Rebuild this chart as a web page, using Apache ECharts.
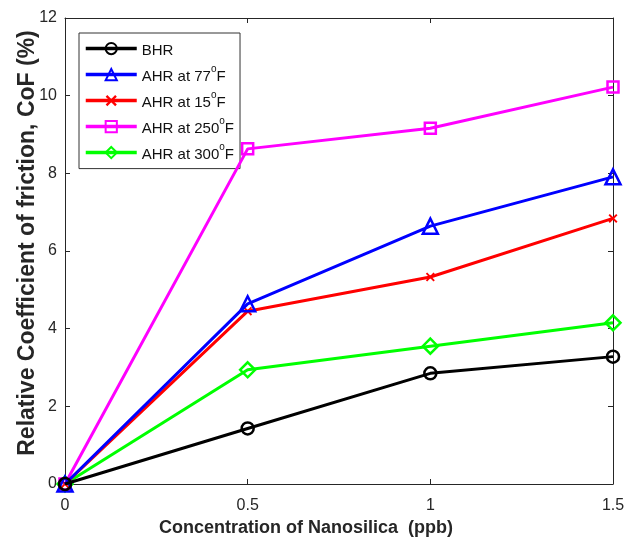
<!DOCTYPE html>
<html><head><meta charset="utf-8">
<script src="https://cdn.jsdelivr.net/npm/echarts@6/dist/echarts.min.js"></script>
<style>html,body{margin:0;padding:0;background:#fff}#c{width:626px;height:542px}</style>
</head><body><div id="c"></div>
<script>
const concentration = [0, 0.5, 1, 1.5];
const bhr = [0, 1.43, 2.85, 3.28];
const ahr77 = [0, 4.64, 6.64, 7.91];
const ahr15 = [0, 4.45, 5.33, 6.84];
const ahr250 = [0, 8.63, 9.16, 10.22];
const ahr300 = [0, 2.94, 3.55, 4.15];
const seriesNames = ['BHR', 'AHR at 77°F', 'AHR at 15°F', 'AHR at 250°F', 'AHR at 300°F'];
const xTicks = [0, 0.5, 1, 1.5];
const yTicks = [0, 2, 4, 6, 8, 10, 12];

const crossPath = 'path://M0,1.5L1.5,0L5,3.5L8.5,0L10,1.5L6.5,5L10,8.5L8.5,10L5,6.5L1.5,10L0,8.5L3.5,5Z';
const styles = [
  {color:'#000000', symbol:'circle', size:12, fill:false},
  {color:'#0000ff', symbol:'triangle', size:15, fill:false},
  {color:'#ff0000', symbol:crossPath, size:9, fill:true},
  {color:'#ff00ff', symbol:'rect', size:11, fill:false},
  {color:'#00ff00', symbol:'diamond', size:15, fill:false}
];
const values = [bhr, ahr77, ahr15, ahr250, ahr300];

const series = values.map((v, i) => ({
  name: seriesNames[i],
  type: 'line',
  data: concentration.map((x, j) => [x, v[j]]),
  symbol: styles[i].symbol,
  symbolSize: styles[i].size,
  showAllSymbol: true,
  lineStyle: {color: styles[i].color, width: 3},
  itemStyle: styles[i].fill ? {color: styles[i].color, borderWidth: 0}
    : {color: 'rgba(255,255,255,0)', borderColor: styles[i].color, borderWidth: 2.5},
  emphasis: {disabled: true},
  animation: false,
  z: 10 - i
}));

const font = 'Liberation Sans, Arial, sans-serif';
const chart = echarts.init(document.getElementById('c'));
const axisLine = {show: true, onZero: false, lineStyle: {color: '#262626', width: 1}};
const tick = {show: true, inside: true, length: 5, lineStyle: {color: '#262626'}};
chart.setOption({
  backgroundColor: '#fff',
  animation: false,
  grid: {left: 65, right: 13, top: 18, bottom: 58, containLabel: false, outerBoundsMode: 'none'},
  legend: {
    orient: 'vertical', left: 79, top: 33,
    padding: [9, 6, 6, 5],
    itemGap: 6, itemWidth: 51, itemHeight: 14,
    borderColor: '#333', borderWidth: 1, backgroundColor: '#fff',
    borderRadius: 0,
    lineStyle: {width: 3.5},
    data: seriesNames,
    formatter: function(n){
      const m = n.match(/^(.*?)(\d+)°F$/);
      if (!m) return '{a|' + n + '}';
      return '{a|' + m[1] + m[2] + '}{s|o}{a|F}';
    },
    textStyle: {
      color: '#111', fontFamily: font, fontSize: 15,
      rich: {
        a: {fontSize: 15, fontFamily: font, color:'#111', verticalAlign: 'bottom', lineHeight: 20},
        s: {fontSize: 10, fontFamily: font, color:'#111', verticalAlign: 'top', lineHeight: 20, padding:[0,0,8,0]}
      }
    }
  },
  xAxis: [{
    type: 'value', min: 0, max: 1.5, interval: 0.5,
    axisLine: axisLine, axisTick: tick,
    splitLine: {show: false},
    axisLabel: {color: '#262626', fontSize: 16, fontFamily: font, margin: 14,
      formatter: v => xTicks.indexOf(v) >= 0 ? String(v) : ''},
    name: 'Concentration of Nanosilica  (ppb)',
    nameLocation: 'middle', nameGap: 35, nameMoveOverlap: false,
    nameTextStyle: {fontSize: 18, fontWeight: 'bold', color: '#262626', fontFamily: font, padding: [0, 66, 0, 0]}
  }, {
    type: 'value', min: 0, max: 1.5, interval: 0.5, position: 'top',
    axisLine: axisLine, axisTick: tick,
    axisLabel: {show: false}, splitLine: {show: false}
  }],
  yAxis: [{
    type: 'value', min: 0, max: 12, interval: 2,
    axisLine: axisLine, axisTick: tick,
    splitLine: {show: false},
    axisLabel: {color: '#262626', fontSize: 16, fontFamily: font, margin: 8,
      formatter: v => yTicks.indexOf(v) >= 0 ? String(v) : ''},
    name: 'Relative Coefficient of friction, CoF (%)',
    nameLocation: 'middle', nameGap: 26, nameRotate: 90, nameMoveOverlap: false,
    nameTextStyle: {fontSize: 23, fontWeight: 'bold', color: '#262626', fontFamily: font, padding: [0, 0, 0, 16]}
  }, {
    type: 'value', min: 0, max: 12, interval: 2, position: 'right',
    axisLine: axisLine, axisTick: tick,
    axisLabel: {show: false}, splitLine: {show: false}
  }],
  series: series
});
</script></body></html>
